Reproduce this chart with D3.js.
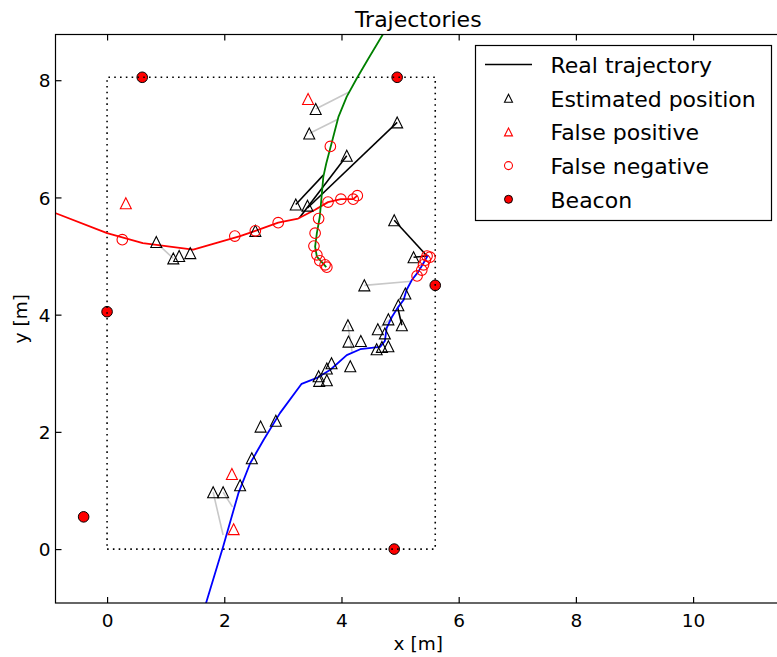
<!DOCTYPE html>
<html>
<head>
<meta charset="utf-8">
<script src="https://cdn.jsdelivr.net/npm/d3@7"></script>
<style>
  html, body { margin: 0; padding: 0; background: #fff; }
  svg { display: block; font-family: "DejaVu Sans", sans-serif; }
</style>
</head>
<body>
<svg id="chart" width="777" height="657"></svg>
<script>
// ---------------- data ----------------
const xTicks = [0, 2, 4, 6, 8, 10];
const yTicks = [0, 2, 4, 6, 8];

const redTrajectory = [[-1.0,5.78],[-0.875,5.73],[0,5.39],[0.61,5.22],[1.47,5.11],[2.27,5.34],[2.53,5.43],[2.92,5.57],[3.26,5.64],[3.55,5.79],[3.77,5.92],[3.99,5.97],[4.2,5.97],[4.27,6.03]];
const greenTrajectory = [[4.8,8.98],[4.70,8.77],[4.46,8.37],[4.26,8.03],[4.09,7.72],[3.95,7.38],[3.83,6.92],[3.74,6.58],[3.69,6.35],[3.66,6.01],[3.63,5.67],[3.58,5.39],[3.55,5.16],[3.58,4.99],[3.68,4.88],[3.74,4.81]];
const blueTrajectory = [[1.665,-1.0],[1.98,0.04],[2.24,0.95],[2.44,1.46],[2.67,1.86],[2.95,2.32],[3.32,2.82],[3.58,2.92],[3.81,3.06],[4.09,3.31],[4.32,3.41],[4.66,3.45],[4.74,3.55],[4.77,3.77],[4.86,3.96],[4.96,4.12],[5.06,4.25],[5.11,4.42],[5.2,4.59],[5.31,4.73],[5.4,4.88],[5.48,5.02]];

const estimatedPositions = [
  [3.56,7.51],[3.45,7.09],[4.09,6.71],[4.95,7.28],[3.22,5.88],[3.42,5.86],
  [0.84,5.24],[1.13,4.96],[1.23,5.0],[1.42,5.05],[2.53,5.43],
  [4.9,5.61],[5.23,4.98],
  [4.39,4.5],[5.09,4.36],[4.97,4.16],[4.8,3.92],[5.03,3.82],[4.62,3.75],[4.74,3.68],
  [4.11,3.82],[4.12,3.54],[4.33,3.55],[4.6,3.41],[4.69,3.45],[4.8,3.46],[4.15,3.12],
  [3.83,3.17],[3.75,3.08],[3.61,2.95],[3.75,2.88],[3.62,2.87],
  [2.62,2.09],[2.88,2.19],[2.47,1.55],[2.27,1.09],[1.81,0.97],[1.98,0.97]
];
const falsePositives = [[0.32,5.9],[3.43,7.68],[2.13,1.28],[2.16,0.34]];
const falseNegatives = [
  [0.26,5.28],[2.18,5.34],[2.53,5.43],[2.92,5.57],[3.77,5.92],[3.99,5.97],[4.2,5.97],[4.27,6.03],
  [3.81,6.87],[3.61,5.64],[3.55,5.39],[3.53,5.17],[3.58,5.02],[3.63,4.92],[3.72,4.85],[3.75,4.81],
  [5.46,5.0],[5.51,4.98],[5.43,4.93],[5.4,4.85],[5.37,4.76],[5.29,4.66]
];
const beacons = [[0.6,8.05],[4.95,8.05],[0,4.05],[5.6,4.5],[-0.4,0.55],[4.9,0]];
const roomCorners = [[0,0],[5.6,0],[5.6,8.05],[0,8.05],[0,0]];

// association lines: estimate -> real position
const grayLinks = [
  [3.56,7.51,4.13,7.8],[3.45,7.09,3.93,7.33],[1.13,4.96,0.87,5.2],[4.39,4.5,5.2,4.57],
  [4.11,3.82,4.18,3.37],[4.62,3.75,4.83,3.92],[1.81,0.97,1.98,0.24],[1.98,0.97,2.14,0.72]
];
const blackLinks = [
  [3.22,5.88,3.69,6.38],[4.09,6.71,3.28,5.65],[4.95,7.28,3.42,5.82],
  [4.9,5.61,5.46,5.0],[5.23,4.98,5.46,5.0],[5.03,3.82,4.96,4.12]
];

const legendLabels = ["Real trajectory","Estimated position","False positive","False negative","Beacon"];
const titleText = "Trajectories";
const xLabel = "x [m]";
const yLabel = "y [m]";

// ---------------- layout ----------------
const plot = {left: 55.5, top: 34.5, right: 781, bottom: 603};
const x = d3.scaleLinear().domain([-0.88, 11.5]).range([plot.left, plot.right]);
const y = d3.scaleLinear().domain([-0.92, 8.78]).range([plot.bottom, plot.top]);

const svg = d3.select("#chart");
svg.append("defs").append("clipPath").attr("id","clip")
  .append("rect").attr("x",plot.left).attr("y",plot.top)
  .attr("width",plot.right-plot.left).attr("height",plot.bottom-plot.top);

const g = svg.append("g").attr("clip-path","url(#clip)");
const line = d3.line().x(d => x(d[0])).y(d => y(d[1]));

// beacons (under the dotted room outline)
g.selectAll("circle.beacon").data(beacons).join("circle")
  .attr("cx", d => x(d[0])).attr("cy", d => y(d[1])).attr("r", 5.3)
  .attr("fill","#ff0000").attr("stroke","#000").attr("stroke-width",1);

// room outline
g.append("path").attr("d", line(roomCorners)).attr("fill","none")
  .attr("stroke","#000").attr("stroke-width",1.6).attr("stroke-dasharray","1.6,4.2");

// association lines
g.selectAll("line.gray").data(grayLinks).join("line")
  .attr("x1",d=>x(d[0])).attr("y1",d=>y(d[1])).attr("x2",d=>x(d[2])).attr("y2",d=>y(d[3]))
  .attr("stroke","#c8c8c8").attr("stroke-width",1.6);
g.selectAll("line.black").data(blackLinks).join("line")
  .attr("x1",d=>x(d[0])).attr("y1",d=>y(d[1])).attr("x2",d=>x(d[2])).attr("y2",d=>y(d[3]))
  .attr("stroke","#000").attr("stroke-width",1.6);

// trajectories
[[redTrajectory,"#ff0000"],[greenTrajectory,"#008000"],[blueTrajectory,"#0000ff"]].forEach(([data,col]) => {
  g.append("path").attr("d", line(data)).attr("fill","none")
    .attr("stroke", col).attr("stroke-width",1.8).attr("stroke-linejoin","round");
});

function tri(cx, cy, s) {
  const h = s/2;
  return `M${cx},${cy-h}L${cx-h},${cy+h}L${cx+h},${cy+h}Z`;
}
g.selectAll("path.est").data(estimatedPositions).join("path")
  .attr("d", d => tri(x(d[0]), y(d[1]), 11)).attr("fill","none")
  .attr("stroke","#000").attr("stroke-width",1.1);
g.selectAll("path.fp").data(falsePositives).join("path")
  .attr("d", d => tri(x(d[0]), y(d[1]), 11)).attr("fill","none")
  .attr("stroke","#ff0000").attr("stroke-width",1.1);
g.selectAll("circle.fn").data(falseNegatives).join("circle")
  .attr("cx", d => x(d[0])).attr("cy", d => y(d[1])).attr("r", 5.3)
  .attr("fill","none").attr("stroke","#ff0000").attr("stroke-width",1.1);

// ---------------- axes ----------------
const axBottom = svg.append("g").attr("transform",`translate(0,${plot.bottom})`)
  .call(d3.axisBottom(x).tickValues(xTicks).tickFormat(d3.format("d")).tickSize(-6).tickPadding(11));
const axTop = svg.append("g").attr("transform",`translate(0,${plot.top})`)
  .call(d3.axisTop(x).tickValues(xTicks).tickFormat("").tickSize(-6));
const axLeft = svg.append("g").attr("transform",`translate(${plot.left},0)`)
  .call(d3.axisLeft(y).tickValues(yTicks).tickFormat(d3.format("d")).tickSize(-6).tickPadding(5));
[axBottom, axTop, axLeft].forEach(a => {
  a.select(".domain").remove();
  a.selectAll(".tick line").attr("stroke","#000").attr("stroke-width",1.2);
  a.selectAll("text").attr("font-size","18.5px").attr("fill","#000").attr("font-family","DejaVu Sans");
});
axLeft.selectAll("text").attr("dy","0.36em");

svg.append("rect").attr("x",plot.left).attr("y",plot.top)
  .attr("width",plot.right-plot.left).attr("height",plot.bottom-plot.top)
  .attr("fill","none").attr("stroke","#000").attr("stroke-width",1.2);

// labels
svg.append("text").attr("x",(plot.left+plot.right)/2).attr("y",27).attr("text-anchor","middle")
  .attr("font-size","22px").text(titleText);
svg.append("text").attr("x",(plot.left+plot.right)/2).attr("y",650).attr("text-anchor","middle")
  .attr("font-size","18.5px").text(xLabel);
svg.append("text").attr("transform",`translate(27,${(plot.top+plot.bottom)/2}) rotate(-90)`)
  .attr("text-anchor","middle").attr("font-size","18.5px").text(yLabel);

// ---------------- legend ----------------
const lg = svg.append("g");
lg.append("rect").attr("x",475.5).attr("y",45.5).attr("width",296).attr("height",175)
  .attr("fill","#fff").attr("stroke","#000").attr("stroke-width",1.2);
const rowY = i => 64.5 + i*33.7;
legendLabels.forEach((lab,i) => {
  const cy = rowY(i);
  if (i === 0) {
    lg.append("line").attr("x1",485).attr("x2",532).attr("y1",cy).attr("y2",cy)
      .attr("stroke","#000").attr("stroke-width",1.5);
  } else if (i === 1 || i === 2) {
    lg.append("path").attr("d", tri(508.5, cy, 8)).attr("fill","none")
      .attr("stroke", i === 1 ? "#000" : "#ff0000").attr("stroke-width",1.1);
  } else if (i === 3) {
    lg.append("circle").attr("cx",508.5).attr("cy",cy).attr("r",4)
      .attr("fill","none").attr("stroke","#ff0000").attr("stroke-width",1.1);
  } else {
    lg.append("circle").attr("cx",508.5).attr("cy",cy).attr("r",4)
      .attr("fill","#ff0000").attr("stroke","#000").attr("stroke-width",1);
  }
  lg.append("text").attr("x",550.5).attr("y",cy+8.3).attr("font-size","22px").text(lab);
});
</script>
</body>
</html>
